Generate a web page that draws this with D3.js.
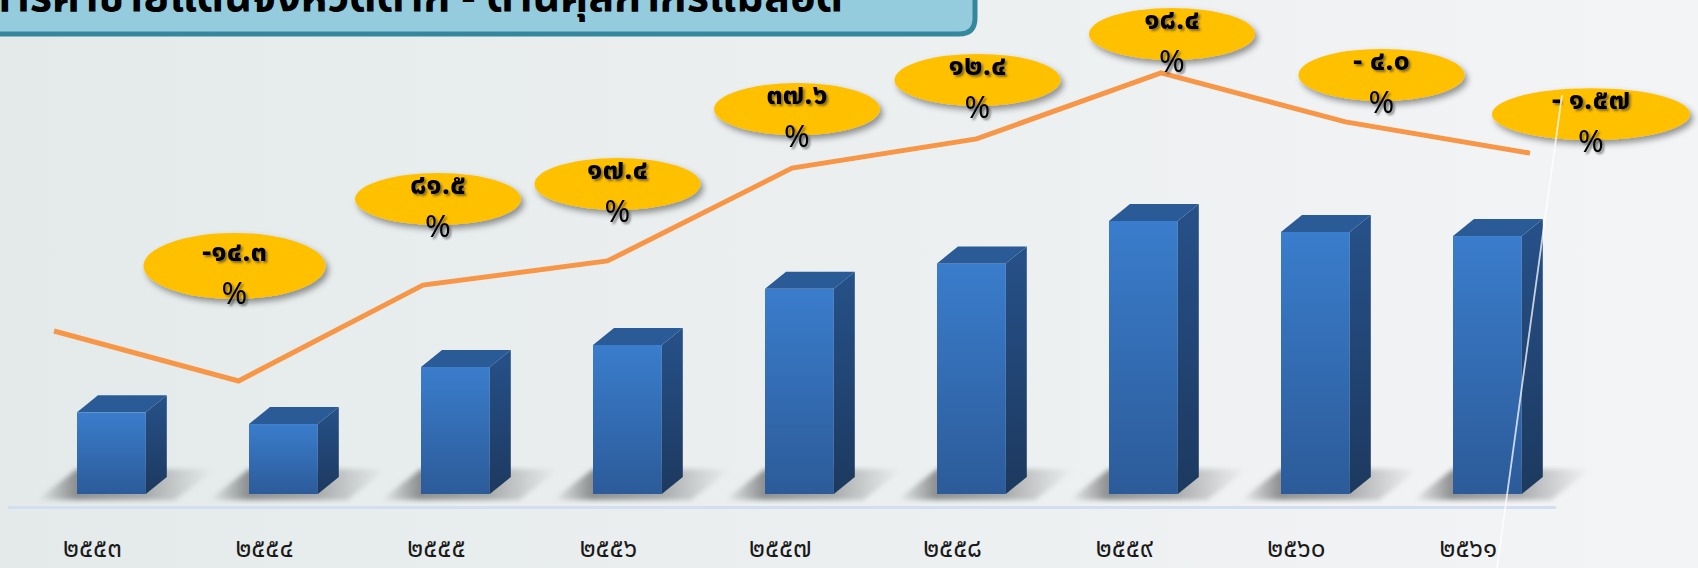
<!DOCTYPE html>
<html>
<head>
<meta charset="utf-8">
<script src="https://cdn.jsdelivr.net/npm/d3@7"></script>
<style>
  body { margin: 0; background: #eceff1; overflow: hidden; }
  svg { display: block; }
</style>
</head>
<body>
<div id="wrapper"></div>
<script>
// data (bars = trade value, line = trend drawn on top)
const years = ["๒๕๕๓", "๒๕๕๔", "๒๕๕๕", "๒๕๕๖", "๒๕๕๗", "๒๕๕๘", "๒๕๕๙", "๒๕๖๐", "๒๕๖๑"]
const tradeValues = [25730, 22050, 40020, 46990, 64650, 72670, 86040, 82600, 81300]
const trendValues = [20.3, 5.6, 33.8, 40.9, 68.2, 76.8, 96.2, 81.8, 72.6]
const growthLabels = ["-๑๔.๓", "๘๑.๕", "๑๗.๔", "๓๗.๖", "๑๒.๔", "๑๘.๔", "- ๔.๐", "- ๑.๕๗"]
const titleText = "มูลค่าการค้าชายแดนจังหวัดตาก - ด่านศุลกากรแม่สอด"

// where each callout bubble sits, relative to its point on the line
const calloutOffsets = [[-4, -115], [15, -86], [10, -77], [5, -59], [1, -59], [11, -39], [36, -47], [61, -39]]

const thaiFont = "'Noto Sans Thai', 'Tahoma', 'Loma', 'Garuda', 'Noto Sans', sans-serif"

function drawChart() {

  // 1. Dimensions
  const width = 1698
  const height = 568
  const baseY = 494
  const depth = { dx: 21, dy: -17 }

  // 2. Canvas
  const svg = d3.select("#wrapper")
    .append("svg")
      .attr("width", width)
      .attr("height", height)

  const defs = svg.append("defs")

  const bgGrad = defs.append("linearGradient").attr("id", "bg")
  bgGrad.append("stop").attr("offset", "0%").attr("stop-color", "#e4eaea")
  bgGrad.append("stop").attr("offset", "100%").attr("stop-color", "#f3f4f6")

  const frontGrad = defs.append("linearGradient").attr("id", "front")
      .attr("x1", 0).attr("y1", 0).attr("x2", 0).attr("y2", 1)
  frontGrad.append("stop").attr("offset", "0%").attr("stop-color", "#3a7dcc")
  frontGrad.append("stop").attr("offset", "100%").attr("stop-color", "#2c5b99")

  const sideGrad = defs.append("linearGradient").attr("id", "side")
      .attr("x1", 0).attr("y1", 0).attr("x2", 0).attr("y2", 1)
  sideGrad.append("stop").attr("offset", "0%").attr("stop-color", "#265189")
  sideGrad.append("stop").attr("offset", "100%").attr("stop-color", "#1d395f")

  const shadowGrad = defs.append("linearGradient").attr("id", "floorShadow")
  shadowGrad.append("stop").attr("offset", "0%").attr("stop-color", "#7c7e7e").attr("stop-opacity", 0)
  shadowGrad.append("stop").attr("offset", "22%").attr("stop-color", "#7c7e7e").attr("stop-opacity", 0.85)
  shadowGrad.append("stop").attr("offset", "60%").attr("stop-color", "#8a8c8c").attr("stop-opacity", 0.7)
  shadowGrad.append("stop").attr("offset", "100%").attr("stop-color", "#9a9c9c").attr("stop-opacity", 0)

  defs.append("filter").attr("id", "blur")
    .append("feGaussianBlur").attr("stdDeviation", 2.5)

  const bubbleShadow = defs.append("filter").attr("id", "bubbleShadow")
      .attr("x", "-20%").attr("y", "-30%").attr("width", "140%").attr("height", "170%")
  bubbleShadow.append("feDropShadow")
      .attr("dx", 3).attr("dy", 4).attr("stdDeviation", 3)
      .attr("flood-color", "#000").attr("flood-opacity", 0.4)

  const textShadow = defs.append("filter").attr("id", "textShadow")
  textShadow.append("feDropShadow")
      .attr("dx", 2).attr("dy", 2).attr("stdDeviation", 1.2)
      .attr("flood-color", "#333").attr("flood-opacity", 0.6)

  svg.append("rect")
      .attr("width", width)
      .attr("height", height)
      .attr("fill", "url(#bg)")

  // 3. Scales
  const xScale = d3.scaleBand()
    .domain(years)
    .range([25.4, 1573.4])
    .paddingInner(0.6)
    .paddingOuter(0.3)

  const yScale = d3.scaleLinear()
    .domain([0, 86040])
    .range([baseY, 221])

  const xLine = d3.scalePoint()
    .domain(years)
    .range([54, 1530])

  const yLine = d3.scaleLinear()
    .domain([0, 100])
    .range([400, 60])

  // 4. Title box (only the lower part shows)
  const boxRight = 975, boxBottom = 34, r = 16
  svg.append("path")
      .attr("d", `M-10,-10 L${boxRight},-10 L${boxRight},${boxBottom - r} Q${boxRight},${boxBottom} ${boxRight - r},${boxBottom} L-10,${boxBottom} Z`)
      .attr("fill", "#94ccdd")
      .attr("stroke", "#35889c")
      .attr("stroke-width", 5)

  svg.append("text")
      .attr("x", 843)
      .attr("y", 11)
      .attr("text-anchor", "end")
      .style("font-family", thaiFont)
      .style("font-weight", "bold")
      .style("font-size", "43px")
      .attr("fill", "#000")
      .text(titleText)

  // 5. Floor line
  svg.append("line")
      .attr("x1", 8)
      .attr("x2", 1556)
      .attr("y1", 507.5)
      .attr("y2", 507.5)
      .attr("stroke", "#d3dfee")
      .attr("stroke-width", 3)

  // 6. Bars
  const bw = xScale.bandwidth()
  const barGroups = svg.append("g").selectAll("g")
    .data(years.map((year, i) => ({ year, value: tradeValues[i] })))
    .join("g")

  barGroups.append("polygon")
      .attr("points", d => {
        const l = xScale(d.year)
        return [[l - 40, baseY + 6], [l + 98, baseY + 6], [l + 138, baseY - 25], [l, baseY - 25]].join(" ")
      })
      .attr("fill", "url(#floorShadow)")
      .attr("filter", "url(#blur)")

  barGroups.append("rect")
      .attr("x", d => xScale(d.year))
      .attr("y", d => yScale(d.value))
      .attr("width", bw)
      .attr("height", d => baseY - yScale(d.value))
      .attr("fill", "url(#front)")

  barGroups.append("polygon")
      .attr("points", d => {
        const r = xScale(d.year) + bw, t = yScale(d.value)
        return [[r, t], [r + depth.dx, t + depth.dy], [r + depth.dx, baseY + depth.dy], [r, baseY]].join(" ")
      })
      .attr("fill", "url(#side)")

  barGroups.append("polygon")
      .attr("points", d => {
        const l = xScale(d.year), t = yScale(d.value)
        return [[l, t], [l + depth.dx, t + depth.dy], [l + bw + depth.dx, t + depth.dy], [l + bw, t]].join(" ")
      })
      .attr("fill", "#2b5b97")

  // 7. Trend line
  const lineGenerator = d3.line()
    .x((d, i) => xLine(years[i]))
    .y(d => yLine(d))

  svg.append("path")
      .datum(trendValues)
      .attr("d", lineGenerator)
      .attr("fill", "none")
      .attr("stroke", "#f79646")
      .attr("stroke-width", 5)
      .attr("stroke-linejoin", "miter")

  // 8. Growth callouts
  const callouts = svg.append("g").selectAll("g")
    .data(growthLabels.map((label, i) => ({
      label,
      cx: xLine(years[i + 1]) + calloutOffsets[i][0],
      cy: yLine(trendValues[i + 1]) + calloutOffsets[i][1],
      rx: i === 7 ? 99 : (i === 0 ? 91 : 83),
      ry: i === 0 ? 33 : 26,
    })))
    .join("g")

  callouts.append("ellipse")
      .attr("cx", d => d.cx)
      .attr("cy", d => d.cy)
      .attr("rx", d => d.rx)
      .attr("ry", d => d.ry)
      .attr("fill", "#ffc000")
      .attr("filter", "url(#bubbleShadow)")

  callouts.append("text")
      .attr("x", d => d.cx)
      .attr("y", d => d.cy - 15)
      .attr("dy", "0.35em")
      .attr("text-anchor", "middle")
      .style("font-family", thaiFont)
      .style("font-weight", "bold")
      .style("font-size", "29px")
      .attr("filter", "url(#textShadow)")
      .text(d => d.label)

  callouts.append("text")
      .attr("x", d => d.cx)
      .attr("y", d => d.cy + 27)
      .attr("dy", "0.35em")
      .attr("text-anchor", "middle")
      .style("font-family", thaiFont)
      .style("font-size", "31px")
      .attr("filter", "url(#textShadow)")
      .text("%")

  // leader from the last callout
  svg.append("line")
      .attr("x1", 1562)
      .attr("y1", 95)
      .attr("x2", 1497)
      .attr("y2", 568)
      .attr("stroke", "#ffffff")
      .attr("stroke-opacity", 0.75)
      .attr("stroke-width", 1.8)

  // 9. Year labels
  svg.append("g").selectAll("text")
    .data(years)
    .join("text")
      .attr("x", d => xScale(d) + bw / 2 - 19)
      .attr("y", 557)
      .attr("text-anchor", "middle")
      .style("font-family", thaiFont)
      .style("font-size", "26px")
      .attr("fill", "#1a1a1a")
      .text(d => d)
}
drawChart()
</script>
</body>
</html>
